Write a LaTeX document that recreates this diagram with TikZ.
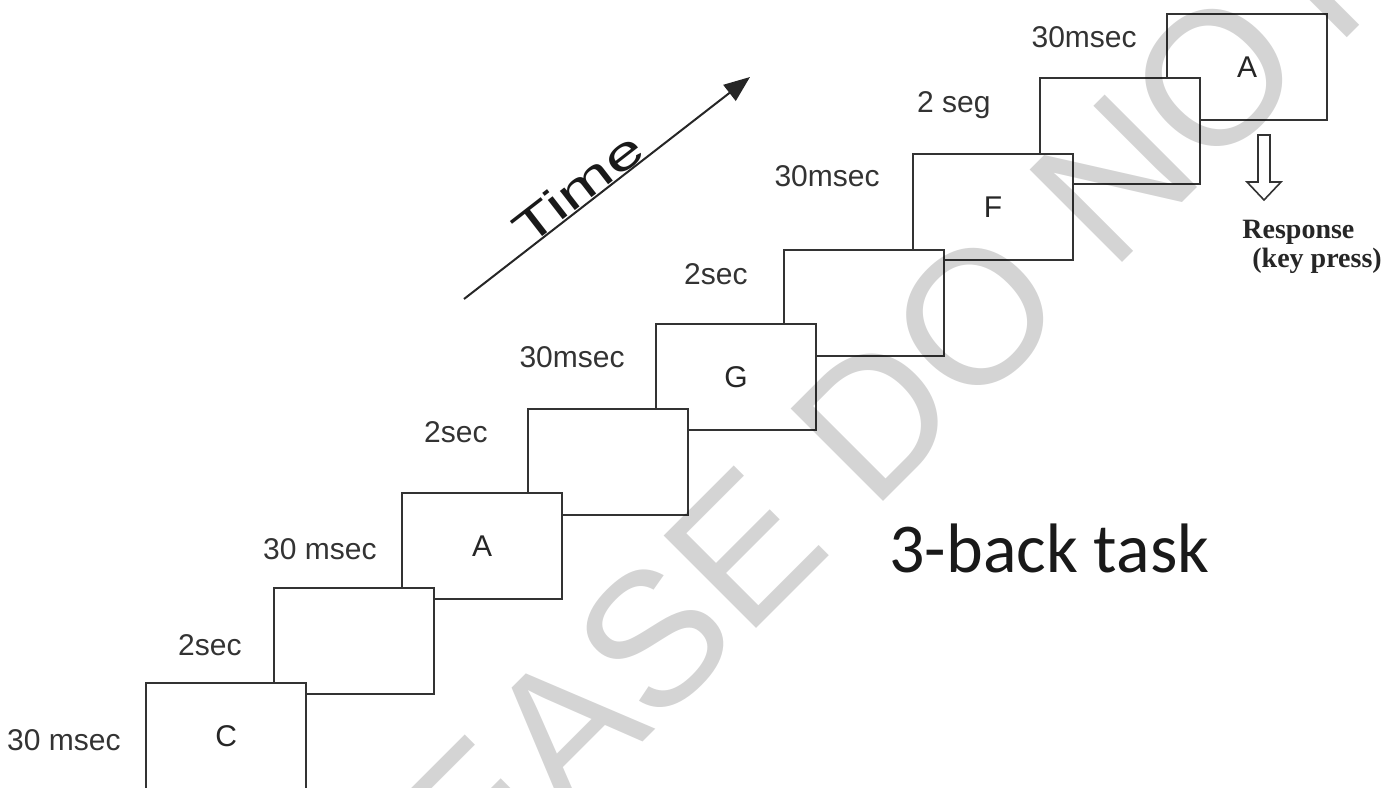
\documentclass[tikz,border=0pt]{standalone}
\usepackage{fontspec}
\setmainfont{Liberation Sans}
\newfontfamily\calibrifont{Carlito}
\newfontfamily\timesfont{Liberation Serif}
\usetikzlibrary{arrows.meta}

\begin{document}
\begin{tikzpicture}[
  x=0.5pt, y=-0.5pt,
  frame/.style={draw=black!80, fill=white, rectangle, line width=1.1pt, minimum width=80pt, minimum height=53pt, anchor=north west, inner sep=0pt, font=\fontsize{15}{18}\selectfont, text=black!85},
  dur/.style={anchor=base east, inner sep=0pt, font=\fontsize{15}{18}\selectfont, text=black!80},
  resp/.style={anchor=base west, inner sep=0pt, font=\timesfont\bfseries\fontsize{14}{17}\selectfont, text=black!85}
]
\useasboundingbox (0,0) rectangle (1381,787);
\begin{scope}
\clip (0,0) rectangle (1381,787);

% frames, last one first so that each earlier frame lies on top
\node[frame] (f9) at (1166,13) {A};
\node[frame] (f8) at (1039,77) {};
\node[frame] (f7) at (912,153) {F};
\node[frame] (f6) at (783,249) {};
\node[frame] (f5) at (655,323) {G};
\node[frame] (f4) at (527,408) {};
\node[frame] (f3) at (401,492) {A};
\node[frame] (f2) at (273,587) {};
\node[frame] (f1) at (145,682) {C};

% durations
\node[dur] (d1) at (121,750) {30 msec};
\node[dur] (d2) at (242,655) {2sec};
\node[dur] (d3) at (377,559) {30 msec};
\node[dur] (d4) at (488,442) {2sec};
\node[dur] (d5) at (625,367) {30msec};
\node[dur] (d6) at (748,284) {2sec};
\node[dur] (d7) at (880,186) {30msec};
\node[dur] (d8) at (991,112) {2 seg};
\node[dur] (d9) at (1137,47) {30msec};

% time axis
\coordinate (t0) at (464,299);
\coordinate (t1) at (750,77);
\draw[line width=1pt, black!85, -{Triangle[length=13pt,width=10pt]}] (t0) -- (t1);
\node[anchor=base, inner sep=0pt, rotate=37.8, xscale=1.5, font=\fontsize{23}{26}\selectfont, text=black!90] (time) at (588,201) {Time};

% response
\draw[black!80, line width=0.8pt, fill=white] (1258,135) -- (1270,135) -- (1270,182) -- (1281,182) -- (1264,200) -- (1247,182) -- (1258,182) -- cycle;
\node[resp] (response) at (1242,238) {Response};
\node[resp] (keypress) at (1252,267) {(key press)};

\node[anchor=base west, inner sep=0pt, font=\calibrifont\fontsize{35}{42}\selectfont, text=black!90] (task) at (889,572) {3-back task};

% watermark
\node[anchor=base west, inner sep=0pt, rotate=45, font=\fontsize{95}{110}\selectfont, text=black, opacity=0.17] (wmark) at (312,1073) {PLEASE DO NOT COPY};
\end{scope}
\end{tikzpicture}
\end{document}
